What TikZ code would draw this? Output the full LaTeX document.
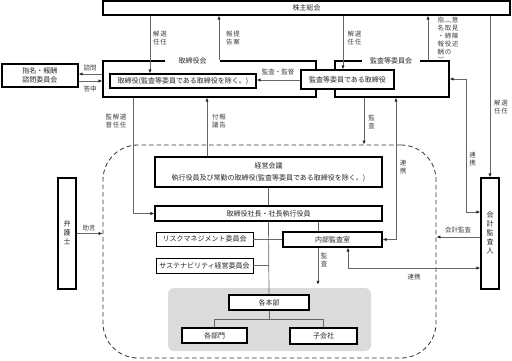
\documentclass[tikz,border=0pt]{standalone}
\usepackage{fontspec}
\setmainfont{Noto Sans CJK JP}
\usetikzlibrary{arrows.meta}
\newcommand\tate[1]{\begin{tabular}[t]{@{}c@{}}#1\end{tabular}}
\newcommand\tgap{\hspace{0.6pt}}
\begin{document}
\begin{tikzpicture}[x=1pt,y=-1pt,>={Latex[length=4pt,width=3.2pt,color=black!85]},
  box/.style={draw,line width=1.1pt,fill=white,inner sep=0pt,text=black!85,font=\fontsize{7}{9}\selectfont},
  thinbox/.style={box,line width=0.75pt},
  frame/.style={draw,line width=1.1pt,inner sep=0pt},
  conn/.style={draw=black!60,line width=0.7pt},
  lab/.style={inner sep=0pt,text=black!75,font=\fontsize{6.5}{8}\selectfont},
  flab/.style={fill=white,inner ysep=1pt,text=black!85,font=\fontsize{7}{9}\selectfont}]
  \useasboundingbox (0,0) rectangle (512,360);
  \node[draw=black!80,line width=0.8pt,dash pattern=on 4.5pt off 3pt,rounded corners=35pt,minimum width=333pt,minimum height=213pt] (shikkou) at (269.5,251.5) {};
  \node[fill=black!14,rounded corners=6pt,minimum width=203pt,minimum height=63pt] (honbuArea) at (269.5,319.5) {};
  \node[frame,minimum width=213pt,minimum height=36pt] (torikai) at (209.5,79) {};
  \node[frame,minimum width=114pt,minimum height=36pt] (kansakai) at (392,79) {};
  \node[flab,inner xsep=13.5pt] (torikaiLab) at (torikai.north -| 192.5,0) {取締役会};
  \node[flab,inner xsep=8pt] (kansakaiLab) at (kansakai.north -| 391,0) {監査等委員会};

  \node[box,minimum width=407pt,minimum height=14pt] (soukai) at (306.5,8) {株主総会};
  \node[box,minimum width=146pt,minimum height=14pt] (torishimari) at (183,81) {取締役(監査等委員である取締役を除く。)};
  \node[box,minimum width=93pt,minimum height=19pt] (kansa) at (347.5,79.5) {監査等委員である取締役};
  \node[box,align=center,minimum width=76pt,minimum height=23pt] (shimei) at (40,75.5) {指名・報酬\\諮問委員会};
  \node[box,align=center,minimum width=227pt,minimum height=30pt] (keiei) at (268.5,172) {経営会議\\[2.5pt]執行役員及び常勤の取締役(監査等委員である取締役を除く。)};
  \node[box,minimum width=227pt,minimum height=15pt] (shacho) at (268.5,213.5) {取締役社長・社長執行役員};
  \node[thinbox,minimum width=97pt,minimum height=14pt] (risk) at (204.5,239) {リスクマネジメント委員会};
  \node[thinbox,minimum width=97pt,minimum height=15pt] (sustain) at (204.5,265.5) {サステナビリティ経営委員会};
  \node[box,minimum width=99pt,minimum height=15pt] (naibu) at (332.5,239.5) {内部監査室};
  \node[box,minimum width=80pt,minimum height=15pt] (honbu) at (269,302.5) {各本部};
  \node[box,minimum width=65pt,minimum height=15pt] (bumon) at (214.5,335.5) {各部門};
  \node[box,minimum width=67pt,minimum height=16pt] (kogaisha) at (323.5,336) {子会社};
  \node[box,minimum width=18pt,minimum height=111pt] (bengoshi) at (67,233.5) {\tate{弁\\護\\士}};
  \node[box,minimum width=18pt,minimum height=111pt] (kaikei) at (490,233.5) {\tate{会\\計\\監\\査\\人}};

  \draw[conn,->] (soukai.south -| 150,0) -- (torishimari.north -| 150,0);
  \draw[conn,->] (torikai.north -| 219,0) -- (soukai.south -| 219,0);
  \draw[conn,->] (soukai.south -| 343,0) -- (kansa.north -| 343,0);
  \draw[conn,->] (kansakai.north -| 428,0) -- (soukai.south -| 428,0);
  \draw[conn,->] (soukai.south -| kaikei.north) -- (kaikei.north);
  \draw[conn,->] (torikai.west |- 0,74) -- (shimei.east |- 0,74);
  \draw[conn,->] (shimei.east |- 0,81) -- (torikai.west |- 0,81);
  \draw[conn,->] (kansa.west |- 0,80) -- (torishimari.east |- 0,80);
  \draw[conn,->] (torikai.south -| 133,0) |- (shacho.west);
  \draw[conn,->] (keiei.north -| 207,0) -- (torikai.south -| 207,0);
  \draw[conn,->] (kansakai.south -| 364,0) -- (shikkou.north -| 364,0);
  \draw[conn,<->] (naibu.east) -| (kansakai.south -| 396,0);
  \draw[conn,<->] (kaikei.west |- 0,212) -| (466,79) -- (kansakai.east |- 0,79);
  \draw[conn,->] (kaikei.west |- 0,237) -- (shikkou.east |- 0,237);
  \draw[conn,<->] (naibu.south -| 348,0) |- (kaikei.west |- 0,268);
  \draw[conn,->] (bengoshi.east) -- (shikkou.west |- bengoshi.east);
  \draw[conn] (keiei.south) -- (shacho.north);
  \draw[conn] (shacho.south) -- (honbu.north);
  \draw[conn] (risk.east) -- (naibu.west |- risk.east);
  \draw[conn] (sustain.east) -- (sustain.east -| honbu.north);
  \draw[conn] (shacho.south -| 318,0) -- (naibu.north -| 318,0);
  \draw[conn,->,shorten >=3pt] (naibu.south -| 318,0) -- (honbuArea.north -| 318,0);
  \draw[conn] (honbu.south) -- ++(0,9) -| (bumon.north);
  \draw[conn] (honbu.south) ++(0,9) -| (kogaisha.north);

  \node[lab,anchor=north] (lSennin) at (160,31) {\tate{解\\任}\tgap\tate{選\\任}};
  \node[lab,anchor=north] (lTeian) at (233,31) {\tate{報\\告}\tgap\tate{提\\案}};
  \node[lab,anchor=north] (lSenninK) at (354.5,31) {\tate{解\\任}\tgap\tate{選\\任}};
  \node[lab,anchor=north] (lIken) at (448,17) {\tate{指\\名\\・\\報\\酬\\︶}\tgap\tate{︵\\取\\締\\役\\の}\tgap\tate{意\\見\\陳\\述}};
  \node[lab,anchor=north] (lSenninA) at (501,100) {\tate{解\\任}\tgap\tate{選\\任}};
  \node[lab,anchor=north] (lKantoku) at (116,114) {\tate{監\\督}\tgap\tate{解\\任}\tgap\tate{選\\任}};
  \node[lab,anchor=north] (lFugi) at (219,114) {\tate{付\\議}\tgap\tate{報\\告}};
  \node[lab,anchor=north] (lKansa) at (371.5,115) {\tate{監\\査}};
  \node[lab,anchor=north] (lRenkeiN) at (403,160) {\tate{連\\携}};
  \node[lab,anchor=north] (lRenkeiK) at (472.5,152) {\tate{連\\携}};
  \node[lab,anchor=north] (lKansaN) at (324,253) {\tate{監\\査}};
  \node[lab] (lShimon) at (90,68) {諮問};
  \node[lab] (lToushin) at (90,89) {答申};
  \node[lab] (lKanshi) at (278,72) {監査・監督};
  \node[lab] (lKaikei) at (458,230) {会計監査};
  \node[lab] (lRenkeiB) at (414,277) {連携};
  \node[lab] (lJogen) at (89,228) {助言};
\end{tikzpicture}
\end{document}
